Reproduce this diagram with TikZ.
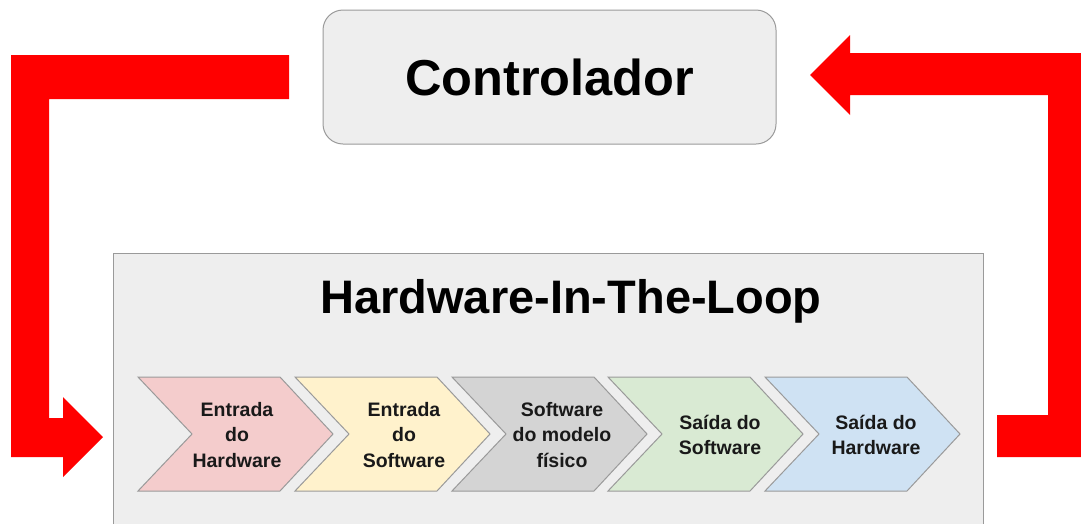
\documentclass[tikz,border=0pt]{standalone}
\usepackage{fontspec}
\setmainfont{Liberation Sans}
\definecolor{boxgray}{HTML}{EEEEEE}
\definecolor{edgegray}{HTML}{9A9A9A}
\definecolor{loopred}{HTML}{FF0000}
\definecolor{cPink}{HTML}{F4CCCC}
\definecolor{cYellow}{HTML}{FFF2CC}
\definecolor{cGray}{HTML}{D4D4D4}
\definecolor{cGreen}{HTML}{D9EAD3}
\definecolor{cBlue}{HTML}{CFE2F3}
\tikzset{
  panel/.style={draw=edgegray, fill=boxgray, line width=1pt},
  chev/.style={draw=edgegray, line width=1pt, line join=miter},
  chevtext/.style={align=center, inner sep=0pt, text=black!90,
    font=\bfseries\fontsize{19.5}{25.5}\selectfont},
  bigarrow/.style={fill=loopred, draw=none}
}
% chevron: left x, label x, fill colour, node name, label
\newcommand\chevstep[5]{%
  \filldraw[chev, fill=#3] (#1,377) -- ++(142,0) -- ++(53,57) -- ++(-53,57)
    -- ++(-142,0) -- ++(54,-57) -- cycle;
  \node[chevtext] (#4) at (#2,435) {#5};
}
\begin{document}
\begin{tikzpicture}[x=1pt,y=-1pt]
\useasboundingbox (0,0) rectangle (1081,523);
\clip (0,0) rectangle (1081,523);

% controller
\node[panel, rounded corners=20pt, minimum width=453pt, minimum height=134pt,
  font=\bfseries\fontsize{50.5}{60}\selectfont] (ctrl) at (549.5,77) {Controlador};

% hardware-in-the-loop frame
\node[panel, minimum width=870pt, minimum height=300pt, anchor=north west]
  (hil) at (113,253) {};
\node[font=\bfseries\fontsize{47}{56}\selectfont, anchor=base] (hiltitle)
  at (571,313) {Hardware-In-The-Loop};

% process chain
\chevstep{138}{237}{cPink}{s1}{Entrada\\do\\Hardware}
\chevstep{295}{404}{cYellow}{s2}{Entrada\\do\\Software}
\chevstep{452}{562}{cGray}{s3}{Software\\do modelo\\físico}
\chevstep{608}{720}{cGreen}{s4}{Saída do\\Software}
\chevstep{765}{876}{cBlue}{s5}{Saída do\\Hardware}

% feedback loop: controller -> HIL input
\fill[bigarrow] (289,55) -- (11,55) -- (11,457) -- (63,457) -- (63,477)
  -- (103,437) -- (63,397) -- (63,418) -- (49,418) -- (49,99) -- (289,99) -- cycle;

% feedback loop: HIL output -> controller
\fill[bigarrow] (997,457) -- (1090,457) -- (1090,53) -- (850,53) -- (850,35)
  -- (810,75) -- (850,115) -- (850,95) -- (1048,95) -- (1048,415) -- (997,415) -- cycle;
\end{tikzpicture}
\end{document}
